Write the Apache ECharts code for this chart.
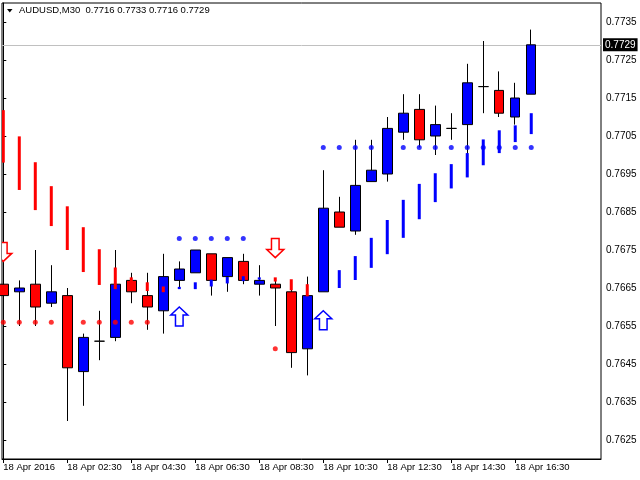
<!DOCTYPE html>
<html>
<head>
<meta charset="utf-8">
<script src="https://cdn.jsdelivr.net/npm/echarts@6/dist/echarts.min.js"></script>
<style>
html, body { margin: 0; padding: 0; background: #fff; }
#chart { width: 640px; height: 480px; }
</style>
</head>
<body>
<div id="chart"></div>
<script>
// AUDUSD M30, one bar per 30 minutes starting 18 Apr 00:30
var symbolName = 'AUDUSD,M30';
var opens  = [0.7666,0.7664,0.7666,0.7661,0.7663,0.7643,0.7651,0.7652,0.7667,0.7663,0.7659,0.7667,0.7669,0.7674,0.7668,0.7672,0.7666,
              0.7666,0.7664,0.7649,0.7664,0.7685,0.7680,0.7693,0.7695,0.7706,0.7712,0.7705,0.7707,0.7708,0.7718,0.7717,0.7710,0.7716];
var highs  = [0.7667,0.7667,0.7675,0.7671,0.7665,0.7653,0.7659,0.7675,0.7669,0.7669,0.7674,0.7672,0.7675,0.7674,0.7673,0.7674,0.7671,
              0.7667,0.7666,0.7668,0.7696,0.7689,0.7704,0.7704,0.7710,0.7716,0.7716,0.7713,0.7711,0.7724,0.7730,0.7722,0.7719,0.7733];
var lows   = [0.7662,0.7655,0.7655,0.7660,0.7630,0.7634,0.7646,0.7651,0.7661,0.7654,0.7653,0.7665,0.7669,0.7663,0.7664,0.7666,0.7663,
              0.7655,0.7644,0.7642,0.7664,0.7681,0.7679,0.7693,0.7693,0.7704,0.7702,0.7700,0.7704,0.7700,0.7711,0.7710,0.7708,0.7716];
var closes = [0.7663,0.7665,0.7660,0.7664,0.7644,0.7652,0.7651,0.7666,0.7664,0.7660,0.7668,0.7670,0.7675,0.7667,0.7673,0.7667,0.7667,
              0.7665,0.7648,0.7663,0.7686,0.7681,0.7692,0.7696,0.7707,0.7711,0.7704,0.7708,0.7707,0.7719,0.7718,0.7711,0.7715,0.7729];

var tickIdx    = [0, 4, 8, 12, 16, 20, 24, 28, 32];
var tickLabels = ['18 Apr 2016', '18 Apr 02:30', '18 Apr 04:30', '18 Apr 06:30', '18 Apr 08:30',
                  '18 Apr 10:30', '18 Apr 12:30', '18 Apr 14:30', '18 Apr 16:30'];
var priceTicks = [0.7625, 0.7635, 0.7645, 0.7655, 0.7665, 0.7675, 0.7685, 0.7695, 0.7705, 0.7715, 0.7725, 0.7735];

// indicator histogram segments [bar, low, high]
var redSegs = [[0,0.76980,0.77118],[1,0.76908,0.77049],[2,0.76855,0.76981],[3,0.76813,0.76918],[4,0.76750,0.76865],
               [5,0.76692,0.76810],[6,0.76658,0.76752],[7,0.76647,0.76704],[8,0.76662,0.76678],[9,0.76642,0.76665],
               [10,0.76639,0.76654],[17,0.76667,0.76678],[18,0.76644,0.76673],[19,0.76628,0.76660]];
var blueSegs = [[11,0.76647,0.76653],[12,0.76647,0.76665],[13,0.76654,0.76672],[14,0.76662,0.76679],[15,0.76668,0.76681],
                [16,0.76672,0.76678],[20,0.76642,0.76668],[21,0.76650,0.76697],[22,0.76671,0.76734],[23,0.76703,0.76782],
                [24,0.76739,0.76829],[25,0.76782,0.76882],[26,0.76831,0.76924],[27,0.76876,0.76952],[28,0.76912,0.76976],
                [29,0.76941,0.77005],[30,0.76973,0.77041],[31,0.77005,0.77065],[32,0.77034,0.77078],[33,0.77055,0.77110]];

// level dots [bar, price]
var redDots = [[0,0.7656],[1,0.7656],[2,0.7656],[3,0.7656],[4,0.7656],[5,0.7656],[6,0.7656],[7,0.7656],[8,0.7656],[9,0.7656],[17,0.7649]];
var blueDots = [[11,0.7678],[12,0.7678],[13,0.7678],[14,0.7678],[15,0.7678],
                [20,0.7702],[21,0.7702],[22,0.7702],[23,0.7702],[24,0.7702],[25,0.7702],[26,0.7702],
                [27,0.7702],[28,0.7702],[29,0.7702],[30,0.7702],[31,0.7702],[32,0.7702],[33,0.7702]];

// signal arrows [bar, tip price]
var sellArrows = [[0,0.7672],[17,0.7673]];
var buyArrows  = [[11,0.7660],[20,0.7659]];

var FONT = 'Liberation Sans';
var last = opens.length - 1;

var candles = [];
for (var i = 0; i < opens.length; i++) {
    candles.push([i, opens[i], closes[i], lows[i], highs[i]]);
}

function segRender(color) {
    return function (params, api) {
        var top = api.coord([api.value(0), api.value(2)]);
        var bot = api.coord([api.value(0), api.value(1)]);
        return {
            type: 'rect',
            shape: { x: top[0] - 1.5, y: top[1], width: 3, height: Math.max(bot[1] - top[1], 1) },
            style: { fill: color }
        };
    };
}

// dir 1 = pointing down (tip below), -1 = pointing up
function arrowRender(dir, color) {
    return function (params, api) {
        var p = api.coord([api.value(0), api.value(1)]);
        var shape = [[-3.8,-19],[3.8,-19],[3.8,-8],[8.5,-8],[0,0],[-8.5,-8],[-3.8,-8]];
        var pts = shape.map(function (q) { return [p[0] + q[0], p[1] + q[1] * dir]; });
        return {
            type: 'polygon',
            shape: { points: pts },
            style: { fill: '#fff', stroke: color, lineWidth: 1.5 }
        };
    };
}

var myChart = echarts.init(document.getElementById('chart'));

var option = {
    animation: false,
    backgroundColor: '#fff',
    title: {
        text: symbolName + '  ' + opens[last].toFixed(4) + ' ' + highs[last].toFixed(4) + ' ' +
              lows[last].toFixed(4) + ' ' + closes[last].toFixed(4),
        left: 19,
        top: 5,
        padding: 0,
        textStyle: { fontFamily: FONT, fontSize: 9.5, fontWeight: 'normal', color: '#000' }
    },
    graphic: [{
        type: 'polygon',
        shape: { points: [[7, 9], [12.5, 9], [9.75, 12.5]] },
        style: { fill: '#000' },
        z: 100
    }],
    grid: {
        left: 2, right: 39, top: 3, bottom: 21,
        show: true, borderColor: '#000', borderWidth: 1, backgroundColor: '#fff'
    },
    xAxis: {
        type: 'value',
        min: -0.081,
        max: 37.36,
        splitLine: { show: false },
        axisLine: { lineStyle: { color: '#000' } },
        axisTick: { customValues: tickIdx, length: 4, lineStyle: { color: '#000' } },
        axisLabel: {
            customValues: tickIdx,
            formatter: function (v) { return tickLabels[tickIdx.indexOf(Math.round(v))] || ''; },
            align: 'left',
            margin: 3,
            fontFamily: FONT, fontSize: 9.5, color: '#000'
        }
    },
    yAxis: {
        type: 'value',
        position: 'right',
        min: 0.7620,
        max: 0.7740,
        splitLine: { show: false },
        axisLine: { show: true, lineStyle: { color: '#000' } },
        axisTick: { show: true, customValues: priceTicks, length: 3, lineStyle: { color: '#000' } },
        axisLabel: {
            customValues: priceTicks,
            formatter: function (v) { return v.toFixed(4); },
            margin: 5,
            fontFamily: FONT, fontSize: 10, color: '#000'
        }
    },
    series: [
        {
            type: 'candlestick',
            data: candles,
            barWidth: 10,
            z: 2,
            itemStyle: {
                color: '#0000ff',
                color0: '#ff0000',
                borderColor: '#000',
                borderColor0: '#000',
                borderColorDoji: '#000',
                borderWidth: 1
            }
        },
        {
            type: 'custom',
            clip: true,
            z: 3,
            data: redSegs,
            encode: { x: 0, y: [1, 2] },
            renderItem: segRender('#ff0000')
        },
        {
            type: 'custom',
            clip: true,
            z: 3,
            data: blueSegs,
            encode: { x: 0, y: [1, 2] },
            renderItem: segRender('#0000ff')
        },
        {
            type: 'scatter',
            z: 4,
            symbolSize: 5,
            data: redDots,
            itemStyle: { color: '#ff0000' }
        },
        {
            type: 'scatter',
            z: 4,
            symbolSize: 5,
            data: blueDots,
            itemStyle: { color: '#0000ff' },
            // current bid line
            markLine: {
                silent: true,
                precision: 4,
                z: 1,
                symbol: ['none', 'none'],
                lineStyle: { color: '#c0c0c0', type: 'solid', width: 1 },
                label: {
                    position: 'end',
                    distance: 2,
                    formatter: closes[last].toFixed(4),
                    backgroundColor: '#000',
                    color: '#fff',
                    padding: [2, 2, 1, 2],
                    fontFamily: FONT, fontSize: 10
                },
                data: [{ yAxis: closes[last] }]
            }
        },
        {
            type: 'custom',
            clip: true,
            z: 5,
            data: sellArrows,
            encode: { x: 0, y: 1 },
            renderItem: arrowRender(1, '#ff0000')
        },
        {
            type: 'custom',
            clip: true,
            z: 5,
            data: buyArrows,
            encode: { x: 0, y: 1 },
            renderItem: arrowRender(-1, '#0000ff')
        }
    ]
};

myChart.setOption(option);
</script>
</body>
</html>
